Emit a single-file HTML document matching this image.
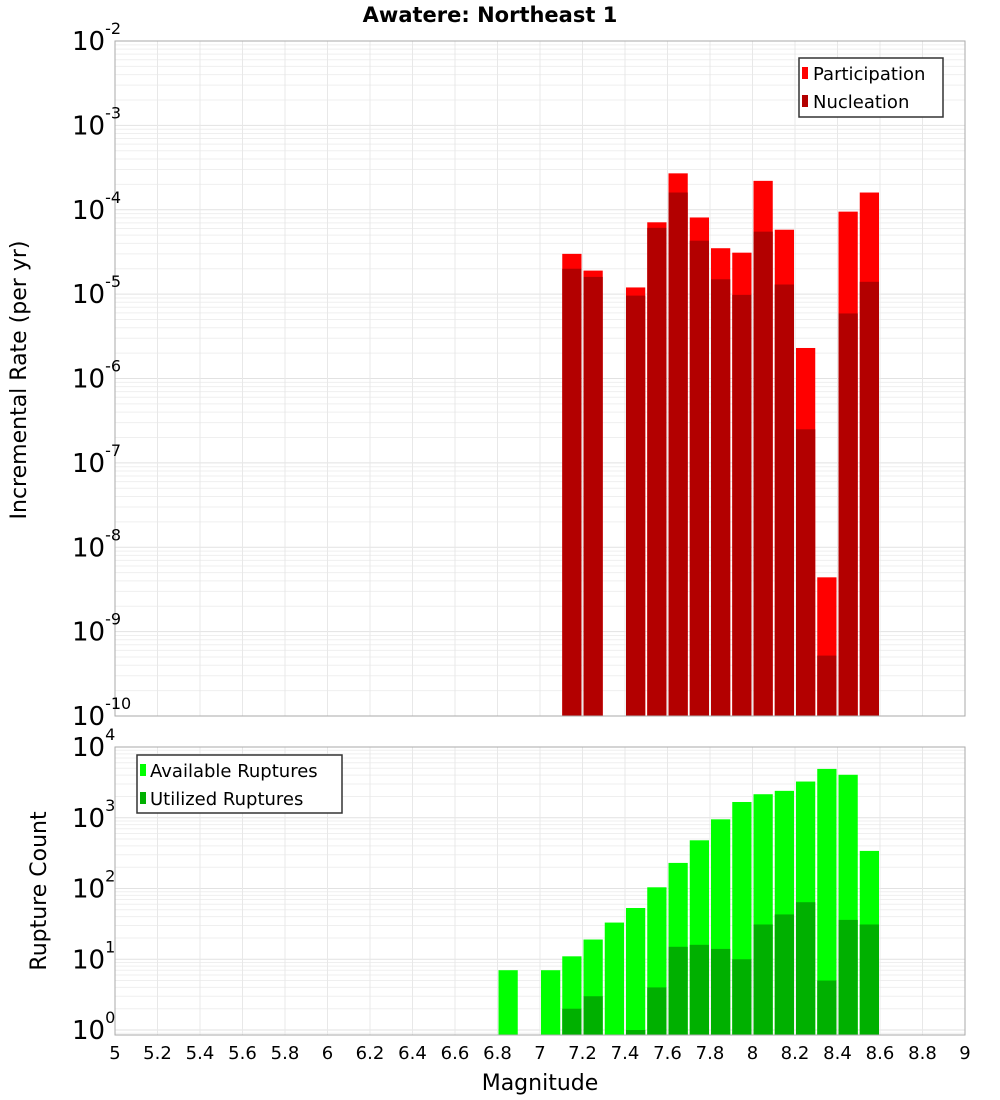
<!DOCTYPE html>
<html><head><meta charset="utf-8"><style>
body{margin:0;background:#fff;}
svg{display:block;font-family:"DejaVu Sans","Liberation Sans",sans-serif;}
</style></head><body>
<svg id="chart" width="1000" height="1100" xmlns="http://www.w3.org/2000/svg">
<rect width="1000" height="1100" fill="#fff"/>
<text x="490" y="22" text-anchor="middle" font-size="21" font-weight="bold">Awatere: Northeast 1</text>
<g id="top"></g>
<g id="bot"></g>
<text transform="translate(26,380) rotate(-90)" text-anchor="middle" font-size="22">Incremental Rate (per yr)</text>
<text transform="translate(46,891) rotate(-90)" text-anchor="middle" font-size="22">Rupture Count</text>
<text x="540" y="1090" text-anchor="middle" font-size="22">Magnitude</text>
<g>
<rect x="799" y="58" width="144" height="59" fill="#fff" stroke="#333" stroke-width="1.5"/>
<rect x="802" y="67" width="6" height="12" fill="#ff0000"/>
<text x="813" y="80" font-size="18">Participation</text>
<rect x="802" y="95" width="6" height="12" fill="#b30000"/>
<text x="813" y="108" font-size="18">Nucleation</text>
</g>
<g>
<rect x="137" y="755" width="205" height="58" fill="#fff" stroke="#333" stroke-width="1.5"/>
<rect x="140" y="764" width="6" height="12" fill="#00ff00"/>
<text x="150" y="777" font-size="18">Available Ruptures</text>
<rect x="140" y="792" width="6" height="12" fill="#00b000"/>
<text x="150" y="805" font-size="18">Utilized Ruptures</text>
</g>
</svg>
<script>
const mags=[6.85,7.05,7.15,7.25,7.35,7.45,7.55,7.65,7.75,7.85,7.95,8.05,8.15,8.25,8.35,8.45,8.55];
const participation=[null,null,3.0e-5,1.9e-5,null,1.2e-5,7.1e-5,2.7e-4,8.1e-5,3.5e-5,3.1e-5,2.2e-4,5.8e-5,2.3e-6,4.4e-9,9.5e-5,1.6e-4];
const nucleation=[null,null,2.0e-5,1.6e-5,null,9.6e-6,6.1e-5,1.6e-4,4.3e-5,1.5e-5,9.8e-6,5.5e-5,1.3e-5,2.5e-7,5.2e-10,5.9e-6,1.4e-5];
const available=[7,7,11,19,33,53,104,230,480,950,1670,2150,2400,3250,4900,4050,340];
const utilized=[null,null,2,3,null,1,4,15,16,14,10,31,43,64,5,36,31];
const xTicks=[5,5.2,5.4,5.6,5.8,6,6.2,6.4,6.6,6.8,7,7.2,7.4,7.6,7.8,8,8.2,8.4,8.6,8.8,9];
const rateExp=[-2,-3,-4,-5,-6,-7,-8,-9,-10];
const countExp=[4,3,2,1,0];
const NS="http://www.w3.org/2000/svg";
const X0=115,X1=965;
const xs=m=>X0+(m-5)/4*(X1-X0);
const yTop=v=>41+(-2-Math.log10(v))*(675/8);
const yBot=v=>1030-Math.log10(v)*70.75;
function el(tag,attrs,parent){const e=document.createElementNS(NS,tag);for(const k in attrs)e.setAttribute(k,attrs[k]);parent.appendChild(e);return e;}
function panel(g,top,bottom,ys,emin,emax,minBound){
  for(let e=emin;e<=emax;e++)for(let k=1;k<10;k++){const v=k*Math.pow(10,e);const y=ys(v);if(y<top-0.5||y>bottom+0.5)continue;
    const l=el('line',{x1:X0,x2:X1,y1:y,y2:y,stroke:k==1?'#e2e2e2':'#efefef','stroke-width':1},g);
    
    }
  xTicks.forEach(t=>{const x=xs(t);const l=el('line',{x1:x,x2:x,y1:top,y2:bottom,stroke:'#e8e8e8','stroke-width':1},g);
    
    });
}
const gt=document.getElementById('top'),gb=document.getElementById('bot');
panel(gt,41,716,yTop,-11,-2);
panel(gb,747,1035,yBot,-1,4);
const bw=(X1-X0)/40;
mags.forEach((m,i)=>{
  const x=xs(m)-bw/2+1,w=bw-2;
  if(participation[i]){const y=yTop(participation[i]);const r=el('rect',{x:x,y:y,width:w,height:716-y,fill:'#ff0000'},gt);
    
    }
  if(nucleation[i]){const y=yTop(nucleation[i]);const r=el('rect',{x:x,y:y,width:w,height:716-y,fill:'#b30000'},gt);
    
    }
  if(available[i]){const y=yBot(available[i]);const r=el('rect',{x:x,y:y,width:w,height:1035-y,fill:'#00ff00'},gb);
    
    }
  if(utilized[i]){const y=yBot(utilized[i]);const r=el('rect',{x:x,y:y,width:w,height:1035-y,fill:'#00b000'},gb);
    
    }
});
el('rect',{x:X0,y:41,width:X1-X0,height:675,fill:'none',stroke:'#aaa','stroke-width':1},gt);
el('rect',{x:X0,y:747,width:X1-X0,height:288,fill:'none',stroke:'#aaa','stroke-width':1},gb);
function ylab(g,e,y){const t=el('text',{x:108,y:y+9,'text-anchor':'end','font-size':26},g);
  
  
  t.textContent='10';
  const s=el('tspan',{dy:-15,'font-size':16},t);s.textContent=e;}
rateExp.forEach(e=>{const y=yTop(Math.pow(10,e));const t=el('text',{x:72,y:y+9,'font-size':26},gt);
  
  
  t.textContent='10';const s=el('tspan',{dy:-16,'font-size':16},t);s.textContent=e;});
countExp.forEach(e=>{const y=yBot(Math.pow(10,e));const t=el('text',{x:72,y:y+9,'font-size':26},gb);
  
  
  t.textContent='10';const s=el('tspan',{dy:-16,'font-size':16},t);s.textContent=e;});
xTicks.forEach(tk=>{const t=el('text',{x:xs(tk),y:1059,'text-anchor':'middle','font-size':18},gb);
  
  
  t.textContent=String(tk);});
</script>
</body></html>
